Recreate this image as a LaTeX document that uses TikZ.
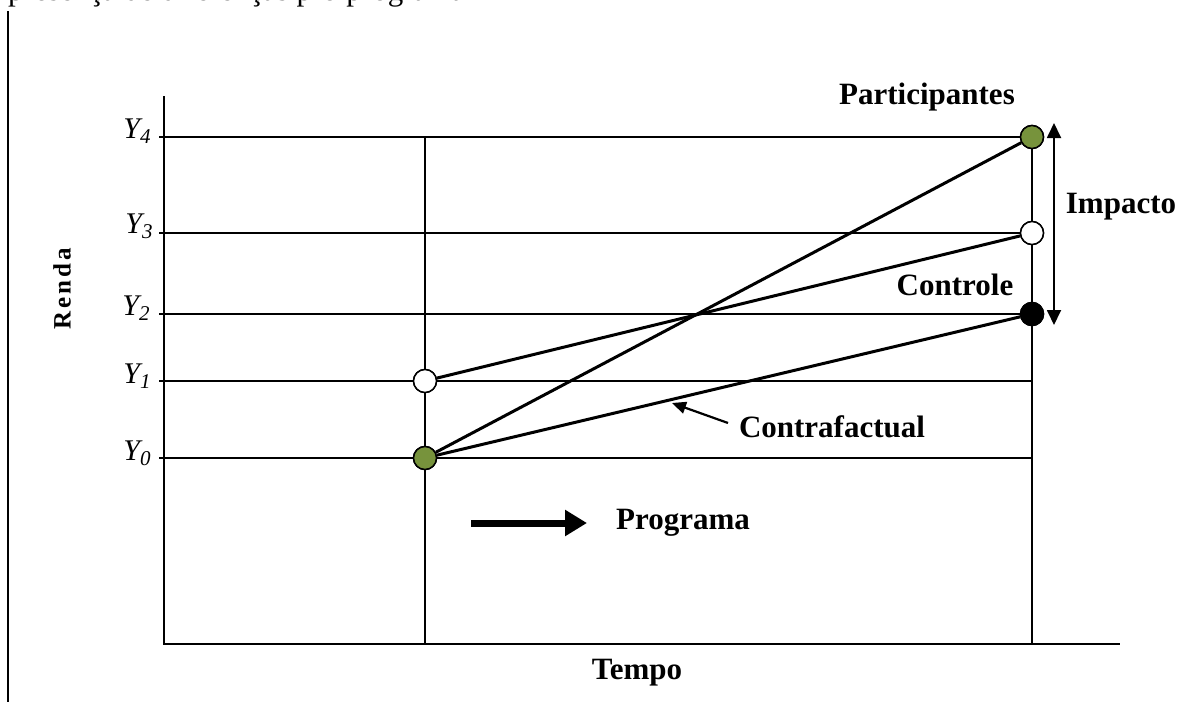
\documentclass[tikz,border=0pt]{standalone}
\usepackage{fontspec}
\setmainfont{Liberation Serif}
\usetikzlibrary{arrows.meta}
\definecolor{olivegreen}{HTML}{77933C}
\newcommand\ysubs[1]{\raisebox{-5pt}{\fontsize{21}{21}\selectfont #1}}
\begin{document}
\begin{tikzpicture}[x=1pt,y=-1pt,
  gridline/.style={line width=1.5pt},
  axisline/.style={line width=2pt},
  dataline/.style={line width=3pt},
  dot/.style={circle,draw,line width=1.5pt,minimum size=23pt,inner sep=0pt},
  lbl/.style={font=\fontsize{31}{33}\selectfont\bfseries,inner sep=0pt},
  ylab/.style={font=\fontsize{30}{32}\selectfont\itshape,inner sep=0pt}]
\useasboundingbox (0,0) rectangle (1203,702);
% cut-off text line at top
\node[anchor=base west,inner sep=0pt,font=\fontsize{31}{33}\selectfont] (toptext) at (8,0.5) {presença de diferenças pré-programa};
% page border line
\coordinate (bt) at (8,11);
\coordinate (bb) at (8,702);
\draw[axisline] (bt) -- (bb);
% axes
\coordinate (ytop) at (164,96);
\coordinate (orig) at (164,644);
\coordinate (xend) at (1120,644);
\draw[axisline] (ytop) -- (orig) -- (xend);
% dots
\node[dot,fill=white] (c1) at (425,381) {};
\node[dot,fill=olivegreen] (c0) at (425,458) {};
\node[dot,fill=olivegreen] (p4) at (1032,137) {};
\node[dot,fill=white] (p3) at (1032,233) {};
\node[dot,fill=black] (p2) at (1032,314) {};
% tick starts
\coordinate (t4) at (159,137);
\coordinate (t3) at (159,233);
\coordinate (t2) at (159,314);
\coordinate (t1) at (159,381);
\coordinate (t0) at (159,458);
\coordinate (e1) at (1032,381);
\coordinate (e0) at (1032,458);
\coordinate (v1top) at (425,137);
\coordinate (v1bot) at (425,643);
\coordinate (v2bot) at (1032,643);
% grid lines
\draw[gridline] (t4) -- (p4);
\draw[gridline] (t3) -- (p3);
\draw[gridline] (t2) -- (p2);
\draw[gridline] (t1) -- (c1) -- (e1);
\draw[gridline] (t0) -- (c0) -- (e0);
\draw[gridline] (v1top) -- (c1) -- (c0) -- (v1bot);
\draw[gridline] (p4) -- (p3) -- (p2) -- (v2bot);
% data lines
\draw[dataline] (c0) -- (p4);
\draw[dataline] (c1) -- (p3);
\draw[dataline] (c0) -- (p2);
% redraw dots on top
\node[dot,fill=white] at (c1) {};
\node[dot,fill=olivegreen] at (c0) {};
\node[dot,fill=olivegreen] at (p4) {};
\node[dot,fill=white] at (p3) {};
\node[dot,fill=black] at (p2) {};
% Y labels
\node[ylab] (y4) at (137,131) {Y\ysubs{4}};
\node[ylab] (y3) at (139,226) {Y\ysubs{3}};
\node[ylab] (y2) at (136,308) {Y\ysubs{2}};
\node[ylab] (y1) at (137,376) {Y\ysubs{1}};
\node[ylab] (y0) at (137,453) {Y\ysubs{0}};
% labels
\node[lbl,anchor=east] (part) at (1015,97) {Participantes};
\node[lbl] (imp) at (1121,207) {Impacto};
\node[lbl] (ctrl) at (955,285) {Controle};
\node[lbl] (cf) at (832,427) {Contrafactual};
\node[lbl] (prog) at (683,523) {Programa};
\node[lbl] (tempo) at (637,673) {Tempo};
\node[lbl,rotate=90,font=\fontsize{25}{27}\selectfont\bfseries] (renda) at (62,289) {R\kern3pt e\kern3pt n\kern3pt d\kern3pt a};
% impact arrow
\coordinate (imptop) at (1054,123);
\coordinate (impbot) at (1054,325);
\draw[line width=1.8pt,{Triangle[length=15pt,width=14pt]}-{Triangle[length=15pt,width=14pt]}] (imptop) -- (impbot);
% contrafactual pointer
\coordinate (cftail) at (728,423);
\coordinate (cftip) at (672,403);
\draw[line width=2.2pt,-{Triangle[length=14pt,width=12pt]}] (cftail) -- (cftip);
% programa arrow
\coordinate (pa) at (471,523);
\coordinate (pb) at (587,523);
\draw[line width=7pt,-{Triangle[length=22pt,width=25pt]}] (pa) -- (pb);
\end{tikzpicture}
\end{document}
